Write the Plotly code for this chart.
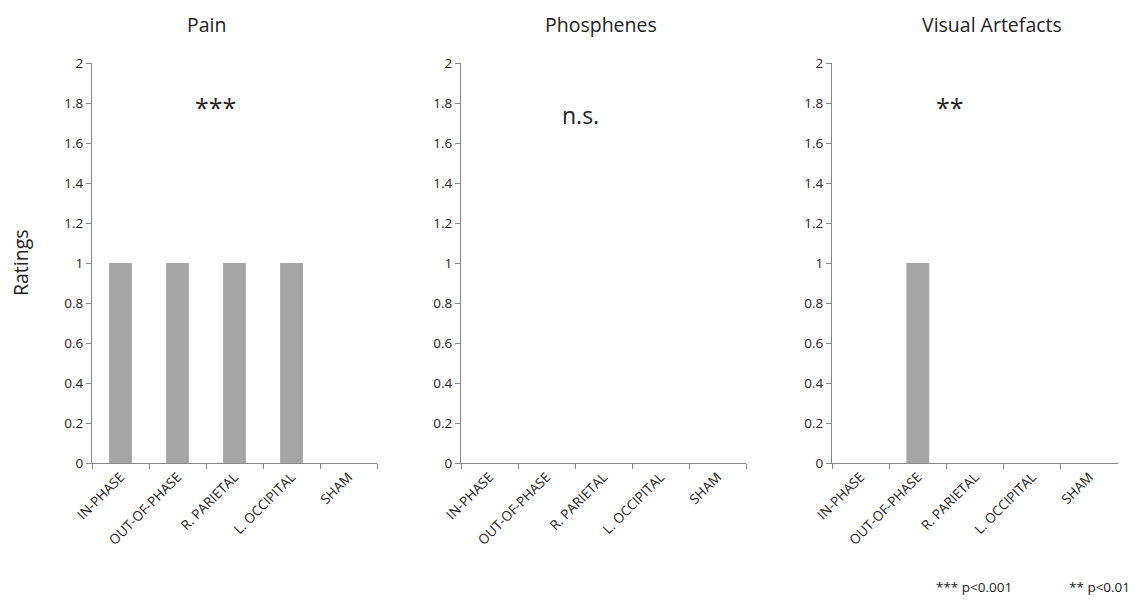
import plotly.graph_objects as go

categories = ["IN-PHASE", "OUT-OF-PHASE", "R. PARIETAL", "L. OCCIPITAL", "SHAM"]
panel_titles = ["Pain", "Phosphenes", "Visual Artefacts"]
pain = [1, 1, 1, 1, 0]
phosphenes = [0, 0, 0, 0, 0]
visual_artefacts = [0, 1, 0, 0, 0]
significance = ["***", "n.s.", "**"]
y_ticks = [0, 0.2, 0.4, 0.6, 0.8, 1, 1.2, 1.4, 1.6, 1.8, 2]
y_tick_labels = ["0", "0.2", "0.4", "0.6", "0.8", "1", "1.2", "1.4", "1.6", "1.8", "2"]

OFF = 8  # body margin of the page
W, H = 1142 - 2 * OFF, 606 - 2 * OFF
FONT = "Open Sans"
BAR = "#a5a5a5"
AXIS = "#888888"
TXT = "#222222"


def px(x):
    return (x - OFF) / W


def py(y):
    return 1 - (y - OFF) / H


x_px = [(92, 377), (461, 746), (832, 1118)]
y_top, y_bot = 63, 463
ydom = [py(y_bot), py(y_top)]

fig = go.Figure()
series = [pain, phosphenes, visual_artefacts]
for i, vals in enumerate(series):
    n = "" if i == 0 else str(i + 1)
    fig.add_trace(go.Bar(x=categories, y=vals, marker=dict(color=BAR, line=dict(width=0)),
                         xaxis="x" + n, yaxis="y" + n, width=0.4, showlegend=False))
    xd = [px(x_px[i][0]), px(x_px[i][1])]
    fig.update_layout(**{
        "xaxis" + n: dict(domain=xd, anchor="y" + n, showline=True, linecolor=AXIS, linewidth=1,
                          ticks="outside", ticklen=5, tickcolor=AXIS, tickson="boundaries",
                          tickangle=-45, tickfont=dict(family=FONT, size=13.5, color=TXT),
                          showgrid=False, zeroline=False, automargin=False),
        "yaxis" + n: dict(domain=ydom, anchor="x" + n, range=[0, 2], tickvals=y_ticks,
                          ticktext=y_tick_labels, showline=True, linecolor=AXIS, linewidth=1,
                          ticks="outside", ticklen=5, tickcolor=AXIS,
                          tickfont=dict(family=FONT, size=13.5, color=TXT),
                          showgrid=False, zeroline=False, automargin=False),
    })

annotations = []
title_x = [206, 601, 992]
for i, t in enumerate(panel_titles):
    annotations.append(dict(text=t, x=px(title_x[i]), y=py(25), xref="paper", yref="paper",
                            xanchor="center", yanchor="middle",
                            showarrow=False, font=dict(family=FONT, size=19.5, color=TXT)))
sig_pos = [(215, 107), (580, 115), (950, 107)]
sig_size = [25, 23, 25]
for i, s in enumerate(significance):
    annotations.append(dict(text=s, x=px(sig_pos[i][0]), y=py(sig_pos[i][1]), xref="paper",
                            yref="paper", xanchor="center", yanchor="middle", showarrow=False,
                            font=dict(family=FONT, size=sig_size[i], color=TXT)))
annotations.append(dict(text="Ratings", x=px(21), y=py(263), xref="paper", yref="paper",
                        xanchor="center", yanchor="middle",
                        textangle=-90, showarrow=False, font=dict(family=FONT, size=19.5, color=TXT)))
annotations.append(dict(text="*** p<0.001", x=px(974), y=py(587), xref="paper", yref="paper",
                        xanchor="center", yanchor="middle",
                        showarrow=False, font=dict(family=FONT, size=13.5, color=TXT)))
annotations.append(dict(text="** p<0.01", x=px(1099), y=py(587), xref="paper", yref="paper",
                        xanchor="center", yanchor="middle",
                        showarrow=False, font=dict(family=FONT, size=13.5, color=TXT)))

fig.update_layout(width=W, height=H, margin=dict(l=0, r=0, t=0, b=0, pad=0, autoexpand=False),
                  paper_bgcolor="white", plot_bgcolor="white", annotations=annotations,
                  bargap=0.6)
fig.write_html("out.html")
